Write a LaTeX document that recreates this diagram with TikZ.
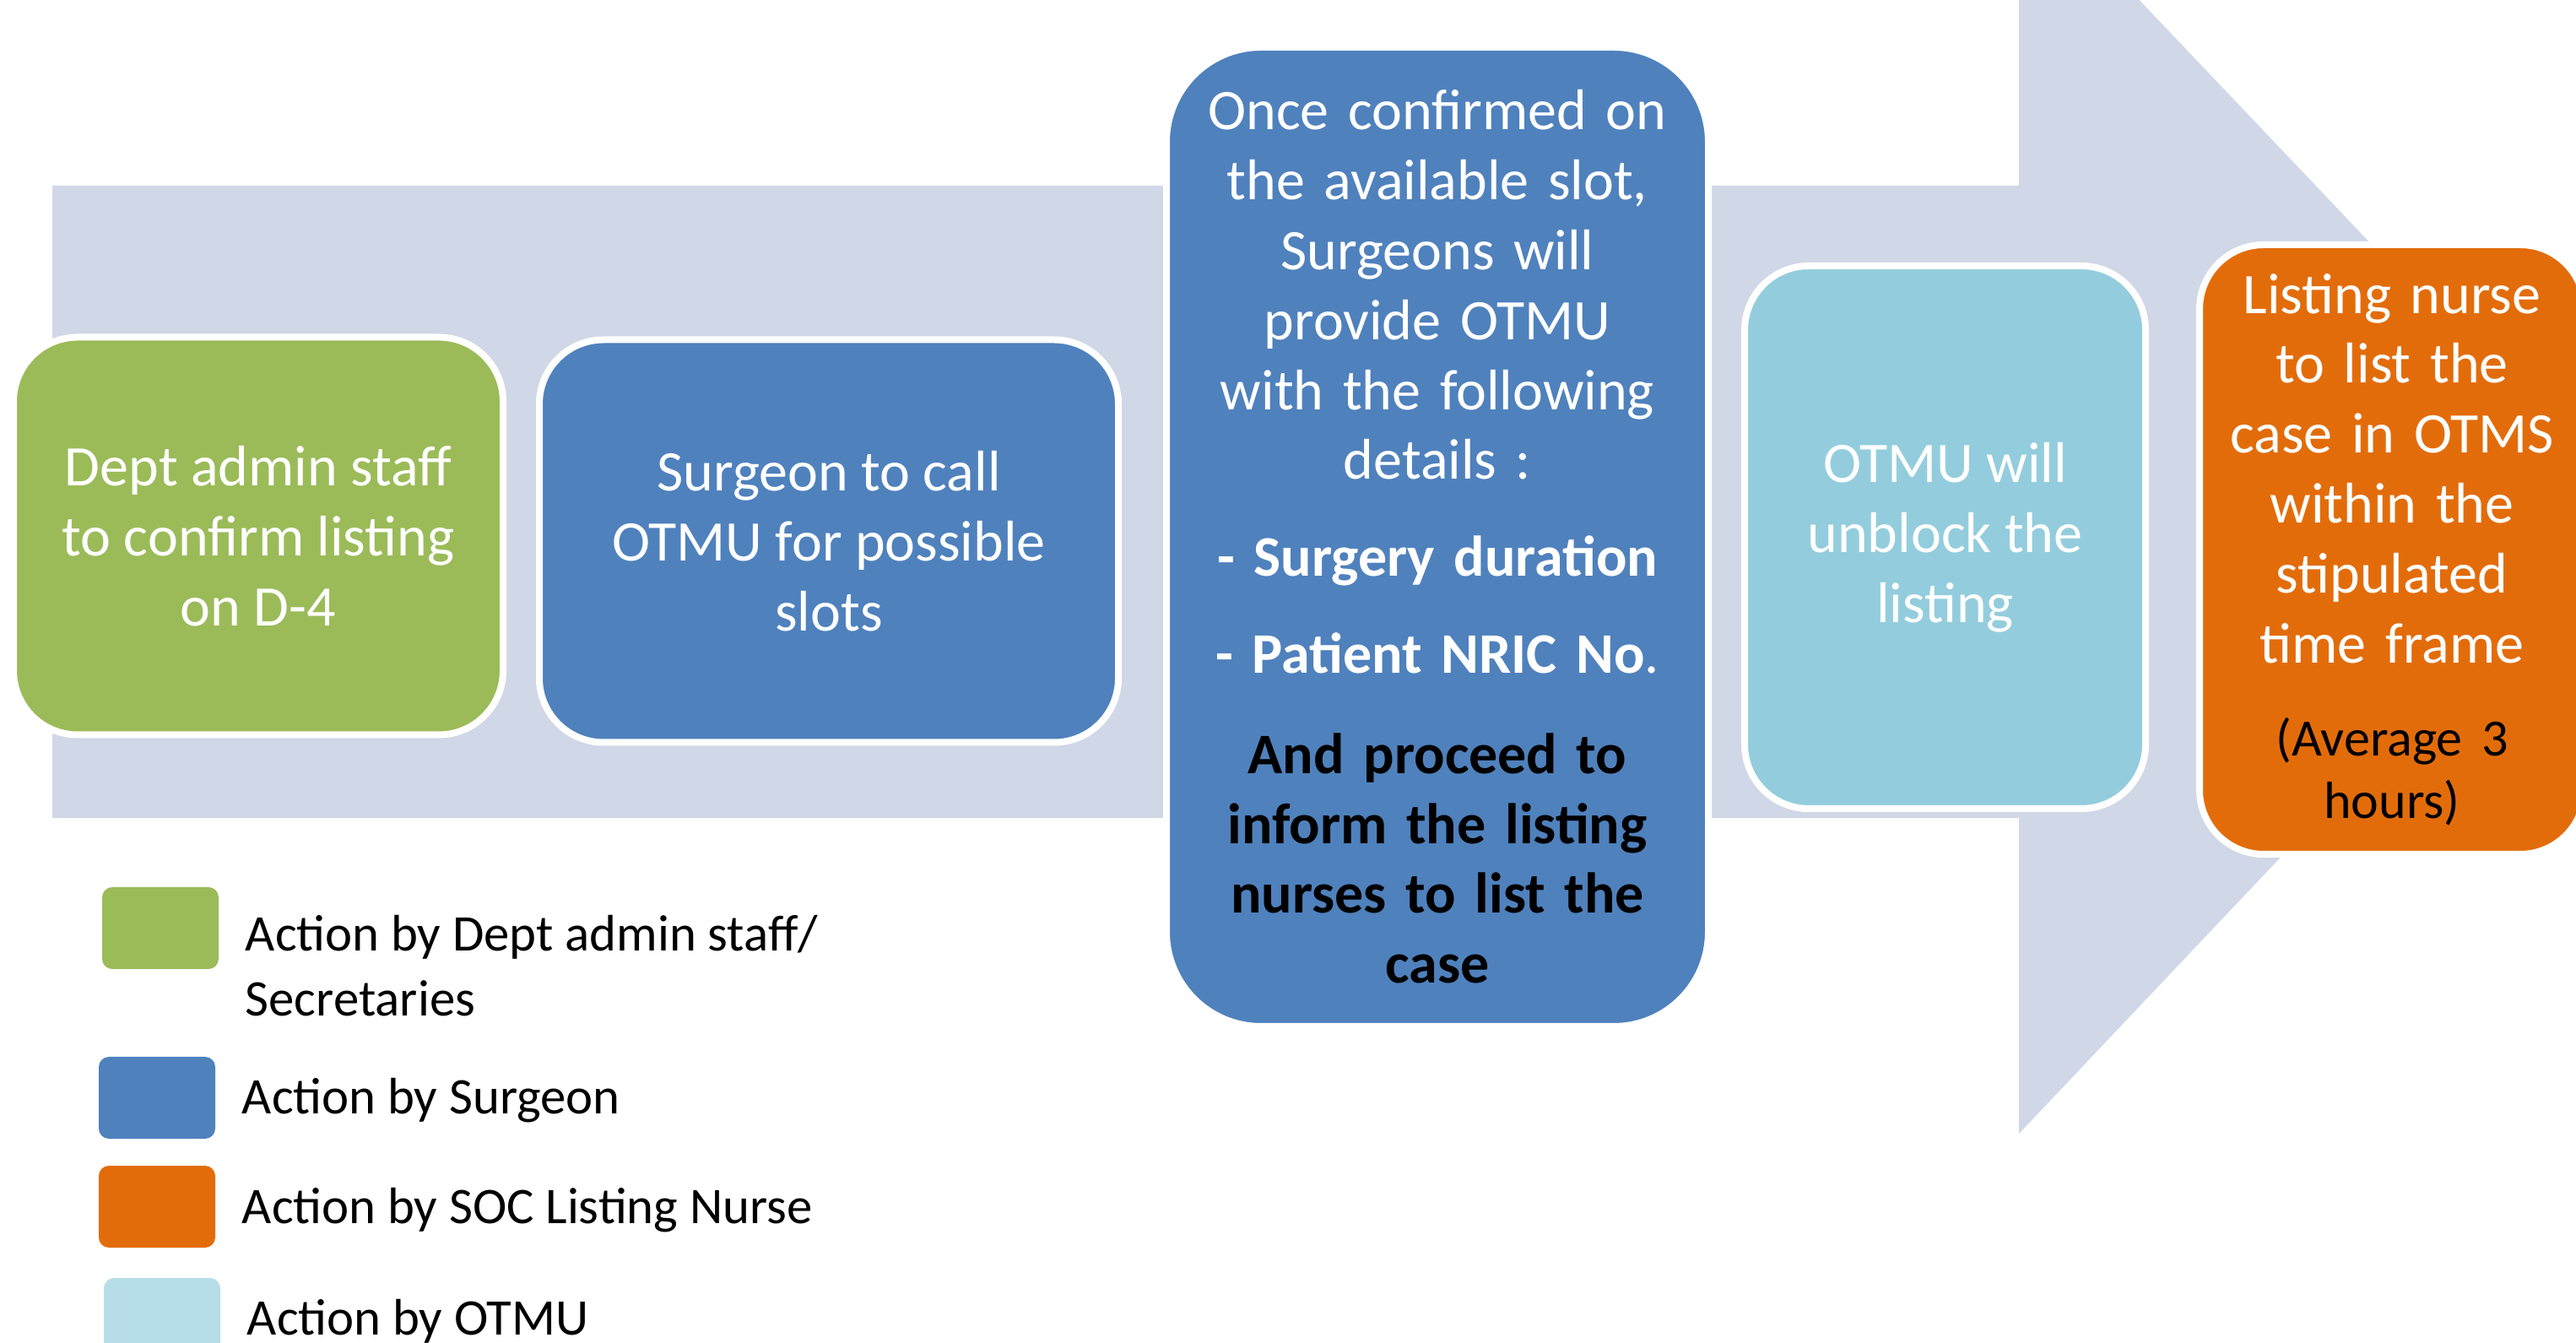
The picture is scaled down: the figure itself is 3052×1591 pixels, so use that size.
\documentclass[tikz,border=0pt]{standalone}
\usepackage{fontspec}
\setmainfont{Carlito}
\definecolor{arrowbg}{HTML}{D0D7E6}
\definecolor{admingreen}{HTML}{9BBB59}
\definecolor{surgeonblue}{HTML}{4F81BD}
\definecolor{otmublue}{HTML}{93CDDD}
\definecolor{otmulegend}{HTML}{B7DEE8}
\definecolor{nurseorange}{HTML}{E36C0A}
\tikzset{
  stepbox/.style={draw=white, line width=2pt, rounded corners=19pt, inner sep=0pt,
    align=center, text=white, font=\fontsize{17}{20.7}\selectfont},
  keybox/.style={rounded corners=3pt, minimum width=34.5pt, minimum height=24.25pt, inner sep=0pt},
  keytext/.style={anchor=west, align=left, inner sep=0pt, text=black, font=\fontsize{15.2}{19.25}\selectfont}
}
\begin{document}
\begin{tikzpicture}[x=0.25pt,y=-0.25pt]
\useasboundingbox (0,0) rectangle (3052,1591);
\begin{scope}
\clip (0,0) rectangle (3052,1591);
% background process arrow
\fill[arrowbg] (62,220) -- (2392,220) -- (2392,-150) -- (3100,595) -- (2392,1343)
  -- (2392,969) -- (62,969) -- cycle;

% process steps
\node[stepbox, fill=admingreen, minimum width=145pt, minimum height=117.75pt]
  (s1) at (306,635) {Dept admin staff\\to confirm listing\\on D-4};
\node[stepbox, fill=surgeonblue, minimum width=171.5pt, minimum height=119.25pt]
  (s2) at (982,641) {Surgeon to call\\OTMU for possible\\slots};
\node[stepbox, fill=surgeonblue, rounded corners=28pt, text width=160.5pt, minimum height=290pt]
  (s3) at (1703,636) {Once confirmed on\\the available slot,\\Surgeons will\\provide OTMU\\with the following\\details :\\[8pt]
  \textbf{- Surgery duration}\\[8pt]\textbf{- Patient NRIC No}.\\[9pt]
  {\color{black}\bfseries And proceed to\\inform the listing\\nurses to list the\\case\par}};
\node[stepbox, fill=otmublue, minimum width=118.75pt, minimum height=160.75pt]
  (s4) at (2304.5,636.5) {OTMU will\\unblock the\\listing};
\node[stepbox, fill=nurseorange, text width=114pt, minimum height=180.5pt]
  (s5) at (2834,651) {Listing nurse\\to list the\\case in OTMS\\within the\\stipulated\\time frame\par
  \vspace{9pt}{\color{black}\fontsize{15.5}{18.5}\selectfont (Average 3\\hours)\par}};

% legend
\node[keybox, fill=admingreen] (k1) at (190,1099.5) {};
\node[keytext] (t1) at (290,1144.5) {Action by Dept admin staff/\\Secretaries};
\node[keybox, fill=surgeonblue] (k2) at (186,1300.5) {};
\node[keytext] (t2) at (286,1304) {Action by Surgeon};
\node[keybox, fill=nurseorange] (k3) at (186,1429.5) {};
\node[keytext] (t3) at (286,1434) {Action by SOC Listing Nurse};
\node[keybox, fill=otmulegend] (k4) at (192,1562.5) {};
\node[keytext] (t4) at (292,1565) {Action by OTMU};
\end{scope}
\end{tikzpicture}
\end{document}
